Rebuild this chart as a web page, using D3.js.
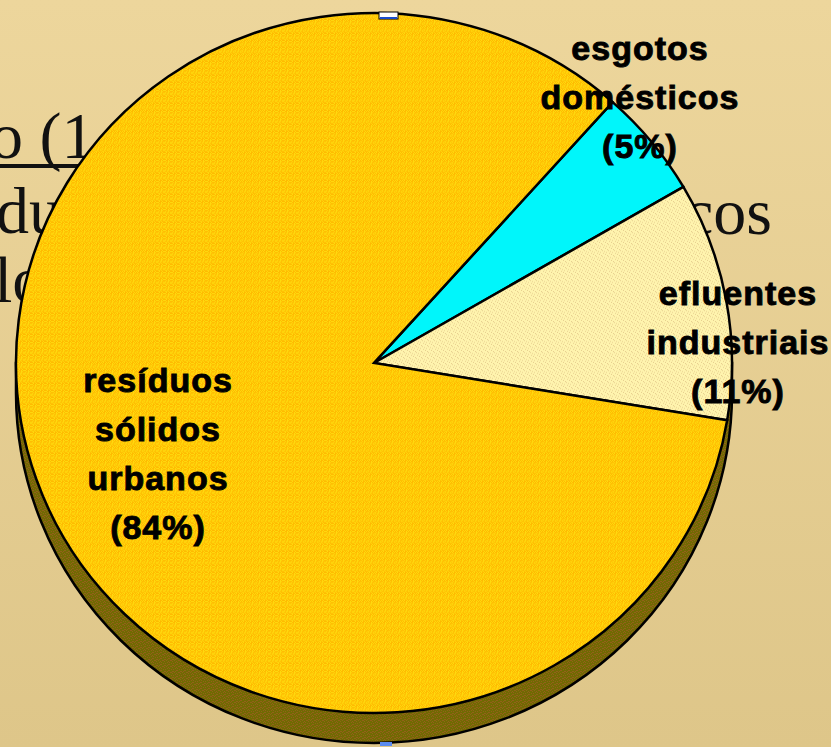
<!DOCTYPE html>
<html>
<head>
<meta charset="utf-8">
<script src="https://cdn.jsdelivr.net/npm/d3@7"></script>
<style>
  html, body { margin: 0; padding: 0; overflow: hidden; }
  svg { display: block; }
</style>
</head>
<body>
<svg id="chart" width="831" height="747"></svg>
<script>
// data
var categories = ["esgotos domésticos", "efluentes industriais", "resíduos sólidos urbanos"];
var values = [5, 11, 84];
var labelLines = [["esgotos", "domésticos", "(5%)"], ["efluentes", "industriais", "(11%)"], ["resíduos", "sólidos", "urbanos", "(84%)"]];
// slide text lying behind the chart
var backText = ["o (1", "du", "cos", "lo"];

var svg = d3.select("#chart"),
  width = +svg.attr("width"),
  height = +svg.attr("height");

var defs = svg.append("defs");
var bg = defs.append("linearGradient").attr("id", "bg").attr("x1", 0).attr("y1", 0).attr("x2", 0).attr("y2", 1);
bg.append("stop").attr("offset", "0%").attr("stop-color", "#edd69c");
bg.append("stop").attr("offset", "100%").attr("stop-color", "#dec689");

var cx = 374, cy = 363, rx = 358, ry = 350, depth = 30;

// dithered fills like the old slide bitmap
function dither(id, base, dot, map, tf){
  var n = map.length;
  var pat = defs.append("pattern").attr("id", id).attr("patternUnits", "userSpaceOnUse")
    .attr("width", map[0].length).attr("height", n);
  if (tf) pat.attr("patternTransform", tf);
  pat.append("rect").attr("width", map[0].length).attr("height", n).attr("fill", base);
  map.forEach(function(row, y){
    row.split("").forEach(function(c, x){
      if (c === "x") pat.append("rect").attr("x", x).attr("y", y).attr("width", 1).attr("height", 1).attr("fill", dot);
    });
  });
}
var fix = "scale(1," + (rx / ry) + ")";
dither("yel", "#ffd90e", "#ffbb00", ["x.xx.x.", "xx.x..x", "..xx.xx", "x.x..x.", ".xx.xx.", "x..x.xx", ".x.xx.x"], fix);
dither("crm", "#fff4ae", "#e6cd8e", [".....x", "x.....", "..x...", "....x.", ".x....", "...x.."], fix);
dither("side", "#716a02", "#93601a", ["..xx..x.", "x...x...", ".x.....x", "...x.x..", "xx......", "....xx.x"]);

var sliceFills = ["#00f6fb", "url(#crm)", "url(#yel)"];

svg.append("rect").attr("width", width).attr("height", height).attr("fill", "url(#bg)");

// background slide text (serif, mostly hidden by the pie)
var back = svg.append("g").attr("font-family", "Liberation Serif, Times New Roman, serif").attr("font-size", 66).attr("fill", "#111");
var backPos = [[-10, 158], [-4, 233], [684, 234], [-6, 302]];
back.selectAll("text").data(backText).enter().append("text")
  .attr("x", function(d, i){ return backPos[i][0]; })
  .attr("y", function(d, i){ return backPos[i][1]; })
  .text(function(d){ return d; });
back.append("line").attr("x1", 0).attr("x2", 120).attr("y1", 166).attr("y2", 166).attr("stroke", "#111").attr("stroke-width", 4);

// 3d side of the pie
svg.append("path")
  .attr("d", "M" + (cx - rx) + "," + cy + " L" + (cx - rx) + "," + (cy + depth) +
    " A" + rx + " " + ry + " 0 0 0 " + (cx + rx) + "," + (cy + depth) +
    " L" + (cx + rx) + "," + cy + " Z")
  .attr("fill", "url(#side)").attr("stroke", "#000").attr("stroke-width", 2.5);

var pie = d3.pie().sort(null)
  .startAngle(41.8 * Math.PI / 180)
  .endAngle(41.8 * Math.PI / 180 + 2 * Math.PI);
var arc = d3.arc().innerRadius(0).outerRadius(rx);

var g = svg.append("g").attr("transform", "translate(" + cx + "," + cy + ") scale(1," + (ry / rx) + ")");
g.selectAll("path").data(pie(values)).enter().append("path")
  .attr("d", arc)
  .attr("fill", function(d, i){ return sliceFills[i]; })
  .attr("stroke", "#000").attr("stroke-width", 2.5)
  .attr("stroke-linejoin", "miter")
  .attr("vector-effect", "non-scaling-stroke");

// selection handles of the slide object
svg.append("rect").attr("x", 379).attr("y", 12).attr("width", 19).attr("height", 7).attr("fill", "#fff").attr("stroke", "#000").attr("stroke-width", 1);
svg.append("rect").attr("x", 380).attr("y", 17).attr("width", 17).attr("height", 2).attr("fill", "#1a4ccc");
svg.append("rect").attr("x", 380).attr("y", 742).attr("width", 12).attr("height", 4).attr("fill", "#5b8cf0");

// labels
var labelPos = [[640, 60], [738, 305], [158, 392]];
var lab = svg.append("g").attr("font-family", "Liberation Sans, Arial, sans-serif").attr("font-weight", "bold")
  .attr("font-size", 34).attr("fill", "#000").attr("stroke", "#000").attr("stroke-width", 0.9)
  .attr("text-anchor", "middle");
labelLines.forEach(function(lines, i){
  lab.selectAll(null).data(lines).enter().append("text")
    .attr("x", labelPos[i][0])
    .attr("y", function(d, j){ return labelPos[i][1] + j * 49; })
    .attr("letter-spacing", 1)
    .text(function(d){ return d; });
});
</script>
</body>
</html>
